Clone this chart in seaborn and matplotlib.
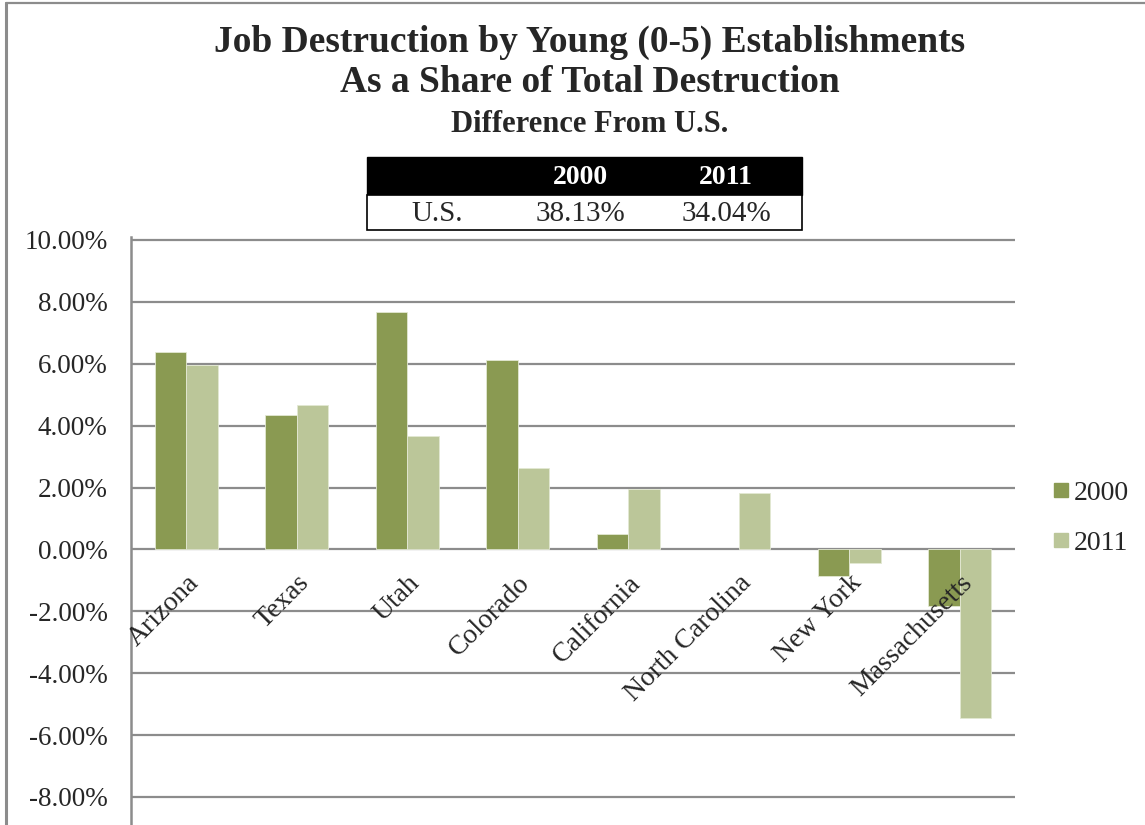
import matplotlib
matplotlib.use("Agg")
import matplotlib.pyplot as plt
from matplotlib.patches import Rectangle
from matplotlib.lines import Line2D
import seaborn as sns
import pandas as pd

# values: difference from U.S. share, in percentage points
states = ["Arizona", "Texas", "Utah", "Colorado", "California",
          "North Carolina", "New York", "Massachusetts"]
diff_2000 = [6.37, 4.36, 7.68, 6.12, 0.49, float("nan"), -0.86, -1.83]
diff_2011 = [5.95, 4.66, 3.67, 2.64, 1.94, 1.81, -0.43, -5.45]
years = ["2000", "2011"]
us_share = ["38.13%", "34.04%"]
yticks = [-8, -6, -4, -2, 0, 2, 4, 6, 8, 10]

colors = {"2000": "#8A9A52", "2011": "#BBC699"}

df = pd.DataFrame({
    "State": states * 2,
    "Year": ["2000"] * len(states) + ["2011"] * len(states),
    "Diff": diff_2000 + diff_2011,
})

sns.set_style("white")
plt.rcParams["font.family"] = ["Liberation Serif", "DejaVu Serif"]

W, H = 1145, 825
fig = plt.figure(figsize=(W / 100, H / 100), dpi=100)

def fx(px):
    return px / W

def fy(py):
    return 1 - py / H

ymin, ymax = -8.905, 10.1
ax = fig.add_axes([fx(131), 0, fx(1015) - fx(131), fy(236.9)])

# gridlines drawn by hand so the category labels can sit above the bars
for t in yticks:
    ax.axhline(t, color="#8C8C8C", linewidth=1.6, zorder=0)

sns.barplot(data=df, x="State", y="Diff", hue="Year", order=states,
            hue_order=years, palette=colors, width=0.57, ax=ax,
            edgecolor="#E3E8D3", linewidth=0.6, saturation=1, legend=False,
            zorder=1)

ax.set_axisbelow(False)
ax.set_ylim(ymin, ymax)
ax.set_xlim(-0.5, len(states) - 0.5)
ax.set_yticks(yticks)
ax.set_yticklabels([f"{v:.2f}%" for v in yticks], fontsize=19.5)
ax.grid(False)
ax.tick_params(axis="both", length=0)
ax.tick_params(axis="y", pad=17)
ax.set_xlabel("")
ax.set_ylabel("")

for side in ["top", "right", "bottom"]:
    ax.spines[side].set_visible(False)
ax.spines["left"].set_color("#8C8C8C")
ax.spines["left"].set_linewidth(1.8)
ax.spines["bottom"].set_position(("data", 0))
ax.set_xticks(range(len(states)))
ax.set_xticklabels(states, rotation=45, ha="right", rotation_mode="anchor",
                   fontsize=20)
ax.tick_params(axis="x", pad=15)

# titles
fig.text(fx(590), fy(42), "Job Destruction by Young (0-5) Establishments",
         ha="center", va="center", fontsize=27, fontweight="bold")
fig.text(fx(590), fy(83), "As a Share of Total Destruction",
         ha="center", va="center", fontsize=27, fontweight="bold")
fig.text(fx(590), fy(125), "Difference From U.S.",
         ha="center", va="center", fontsize=22, fontweight="bold")

# small U.S. table
fig.patches.append(Rectangle((fx(367), fy(195)), fx(802) - fx(367),
                             fy(157) - fy(195), transform=fig.transFigure,
                             facecolor="black", edgecolor="black"))
fig.patches.append(Rectangle((fx(367), fy(230)), fx(802) - fx(367),
                             fy(195) - fy(230), transform=fig.transFigure,
                             facecolor="white", edgecolor="black", lw=1.2))
col_x = [580, 726]
for x, yr, val in zip(col_x, years, us_share):
    fig.text(fx(x), fy(178), yr, ha="center", va="center", color="white",
             fontsize=20, fontweight="bold")
    fig.text(fx(x), fy(214), val, ha="center", va="center", fontsize=21)
fig.text(fx(437), fy(214), "U.S.", ha="center", va="center", fontsize=21)

# legend
handles = [Line2D([0], [0], marker="s", linestyle="none", markersize=10,
                  markerfacecolor=colors[y], markeredgecolor=colors[y])
           for y in years]
fig.legend(handles, years, loc="center left",
           bbox_to_anchor=(fx(1053), fy(518)), frameon=False, fontsize=20,
           handletextpad=0.15, labelspacing=0.9, handlelength=0.6,
           borderpad=0, borderaxespad=0)

# outer frame
fig.add_artist(Line2D([fx(6), fx(6)], [0, fy(3)], color="#8C8C8C", lw=2.2,
                      transform=fig.transFigure))
fig.add_artist(Line2D([fx(6), 1], [fy(3), fy(3)], color="#8C8C8C", lw=1.6,
                      transform=fig.transFigure))

fig.savefig("out.png", dpi=100)
